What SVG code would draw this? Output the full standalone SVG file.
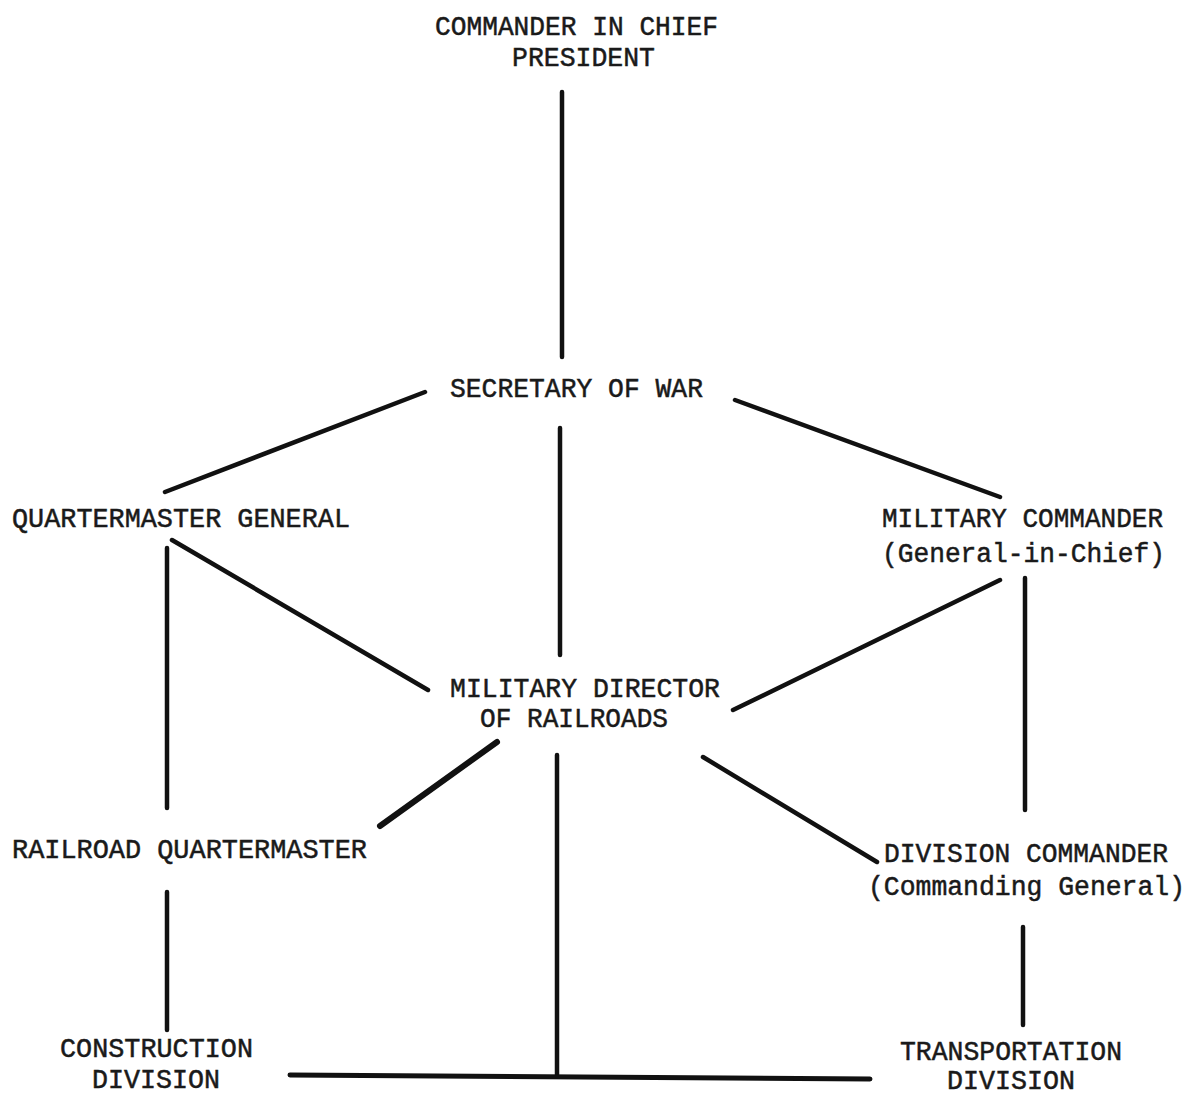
<svg xmlns="http://www.w3.org/2000/svg" width="1196" height="1096" viewBox="0 0 1196 1096">
<style>
.t{font-family:"Liberation Mono","DejaVu Sans Mono",monospace;font-size:27px;fill:#1a1a1a;stroke:#1a1a1a;stroke-width:0.5}
.c{stroke:#111;stroke-width:4.5;stroke-linecap:round;fill:none}
</style>
<rect width="1196" height="1096" fill="#fff"/>
<g id="connectors">
<line class="c" x1="562" y1="92" x2="562" y2="357"/>
<line class="c" x1="425" y1="392" x2="165" y2="492"/>
<line class="c" x1="735" y1="400" x2="1000" y2="497"/>
<line class="c" x1="560" y1="428" x2="560" y2="655"/>
<line class="c" x1="167" y1="548" x2="167" y2="808"/>
<line class="c" x1="172" y1="540" x2="428" y2="690"/>
<line class="c" x1="1000" y1="580" x2="733" y2="710"/>
<line class="c" x1="1025" y1="578" x2="1025" y2="810"/>
<line class="c" x1="497" y1="742" x2="380" y2="826" style="stroke-width:6"/>
<line class="c" x1="557" y1="755" x2="557" y2="1075"/>
<line class="c" x1="703" y1="757" x2="877" y2="862"/>
<line class="c" x1="167" y1="892" x2="167" y2="1030"/>
<line class="c" x1="1023" y1="927" x2="1023" y2="1025"/>
<line class="c" x1="290" y1="1075" x2="870" y2="1079" style="stroke-width:5"/>
</g>
<g id="commander-in-chief">
<text class="t" x="435" y="35" textLength="283" lengthAdjust="spacingAndGlyphs">COMMANDER IN CHIEF</text>
<text class="t" x="512" y="66" textLength="143" lengthAdjust="spacingAndGlyphs">PRESIDENT</text>
</g>
<g id="secretary-of-war">
<text class="t" x="450" y="397" textLength="253" lengthAdjust="spacingAndGlyphs">SECRETARY OF WAR</text>
</g>
<g id="quartermaster-general">
<text class="t" x="12" y="527" textLength="338" lengthAdjust="spacingAndGlyphs">QUARTERMASTER GENERAL</text>
</g>
<g id="military-commander">
<text class="t" x="882" y="527" textLength="281" lengthAdjust="spacingAndGlyphs">MILITARY COMMANDER</text>
<text class="t" x="882" y="562" textLength="283" lengthAdjust="spacingAndGlyphs">(General-in-Chief)</text>
</g>
<g id="military-director">
<text class="t" x="450" y="697" textLength="270" lengthAdjust="spacingAndGlyphs">MILITARY DIRECTOR</text>
<text class="t" x="480" y="727" textLength="188" lengthAdjust="spacingAndGlyphs">OF RAILROADS</text>
</g>
<g id="railroad-quartermaster">
<text class="t" x="12" y="858" textLength="355" lengthAdjust="spacingAndGlyphs">RAILROAD QUARTERMASTER</text>
</g>
<g id="division-commander">
<text class="t" x="884" y="862" textLength="284" lengthAdjust="spacingAndGlyphs">DIVISION COMMANDER</text>
<text class="t" x="868" y="895" textLength="317" lengthAdjust="spacingAndGlyphs">(Commanding General)</text>
</g>
<g id="construction-division">
<text class="t" x="60" y="1057" textLength="193" lengthAdjust="spacingAndGlyphs">CONSTRUCTION</text>
<text class="t" x="92" y="1088" textLength="128" lengthAdjust="spacingAndGlyphs">DIVISION</text>
</g>
<g id="transportation-division">
<text class="t" x="900" y="1060" textLength="222" lengthAdjust="spacingAndGlyphs">TRANSPORTATION</text>
<text class="t" x="947" y="1089" textLength="128" lengthAdjust="spacingAndGlyphs">DIVISION</text>
</g>
</svg>
